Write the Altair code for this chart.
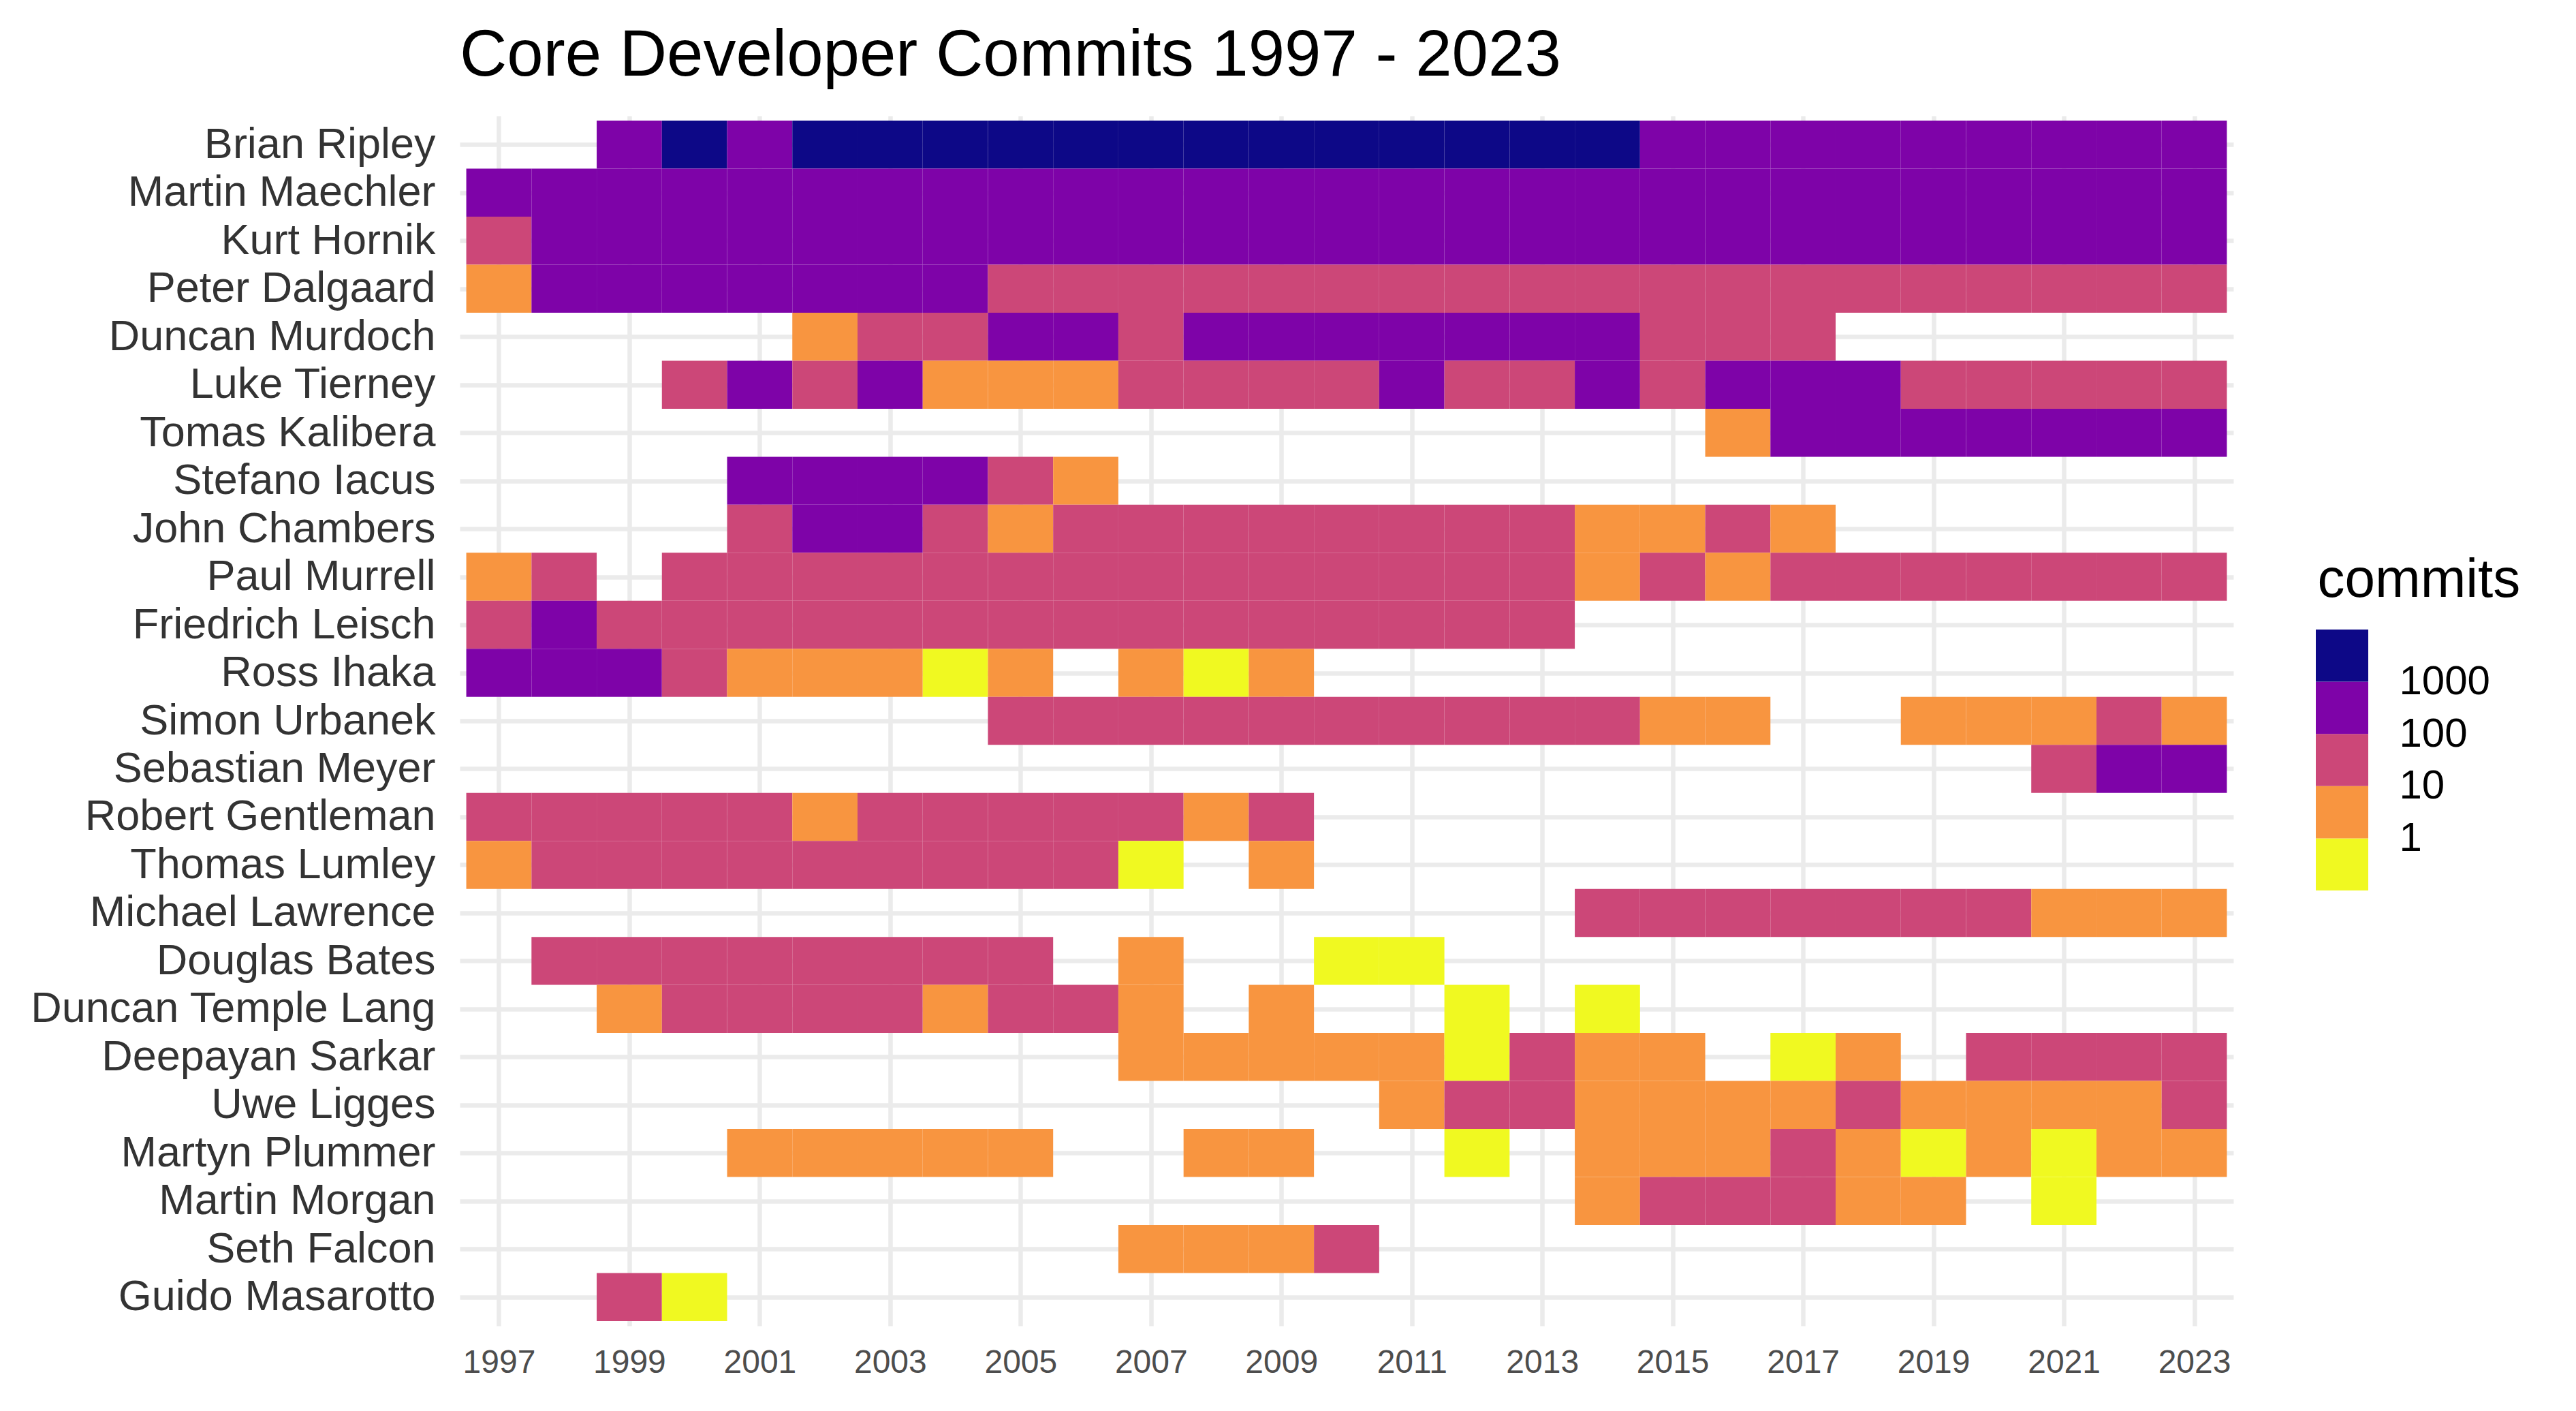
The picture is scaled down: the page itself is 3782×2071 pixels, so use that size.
import altair as alt
import pandas as pd

# ---- data ----
developers = [
    "Brian Ripley", "Martin Maechler", "Kurt Hornik", "Peter Dalgaard",
    "Duncan Murdoch", "Luke Tierney", "Tomas Kalibera", "Stefano Iacus",
    "John Chambers", "Paul Murrell", "Friedrich Leisch", "Ross Ihaka",
    "Simon Urbanek", "Sebastian Meyer", "Robert Gentleman", "Thomas Lumley",
    "Michael Lawrence", "Douglas Bates", "Duncan Temple Lang", "Deepayan Sarkar",
    "Uwe Ligges", "Martyn Plummer", "Martin Morgan", "Seth Falcon", "Guido Masarotto",
]
years = list(range(1997, 2024))

# one character per year 1997..2023:
# '.' no commits, '1' = 1 commit, '2' = 2-10, '3' = 11-100, '4' = 101-1000, '5' = >1000
activity = {
    "Brian Ripley":       "..4545555555555555444444444",
    "Martin Maechler":    "444444444444444444444444444",
    "Kurt Hornik":        "344444444444444444444444444",
    "Peter Dalgaard":     "244444443333333333333333333",
    "Duncan Murdoch":     ".....2334434444444333......",
    "Luke Tierney":       "...343422233334334344433333",
    "Tomas Kalibera":     "...................24444444",
    "Stefano Iacus":      "....444432.................",
    "John Chambers":      "....34432333333332232......",
    "Paul Murrell":       "23.333333333333332323333333",
    "Friedrich Leisch":   "34333333333333333..........",
    "Ross Ihaka":         "444322212.212..............",
    "Simon Urbanek":      "........333333333322..22232",
    "Sebastian Meyer":    "........................344",
    "Robert Gentleman":   "3333323333323..............",
    "Thomas Lumley":      "23333333331.2..............",
    "Michael Lawrence":   ".................3333333222",
    "Douglas Bates":      ".33333333.2..11............",
    "Duncan Temple Lang": "..233332332.2..1.1.........",
    "Deepayan Sarkar":    "..........222221322.12.3333",
    "Uwe Ligges":         "..............2332222322223",
    "Martyn Plummer":     "....22222..22..1.2223212122",
    "Martin Morgan":      ".................233322.1..",
    "Seth Falcon":        "..........2223.............",
    "Guido Masarotto":    "..31.......................",
}

# representative commit count for each bin code
bin_codes = ["1", "2", "3", "4", "5"]
bin_commits = {"1": 1, "2": 5, "3": 40, "4": 300, "5": 2000}
thresholds = [1.5, 10.5, 100.5, 1000.5]
palette = ["#F0F921", "#F89540", "#CC4778", "#7E03A8", "#0D0887"]
legend_labels = ["1", "10", "100", "1000"]
x_tick_years = list(range(1997, 2024, 2))

for name, s in activity.items():
    assert len(s) == len(years), (name, len(s))

rows = []
for r, dev in enumerate(developers):
    for yr, code in zip(years, activity[dev]):
        if code != ".":
            rows.append({"developer": dev, "row": r, "year": yr,
                         "commits": bin_commits[code]})
df = pd.DataFrame(rows)

legend_df = pd.DataFrame({
    "bin": list(range(len(bin_codes))),
    "commits": [bin_commits[c] for c in bin_codes],
})

FONT = "Liberation Sans"
GRID = "#EBEBEB"

color_scale = alt.Scale(type="threshold", domain=thresholds, range=palette)

names_js = "[" + ",".join("'" + d + "'" for d in developers) + "]"
labels_js = "[" + ",".join("'" + l + "'" for l in legend_labels) + "]"

heat = (
    alt.Chart(df)
    .transform_calculate(
        x0="datum.year - 0.5", x1="datum.year + 0.5",
        y0="datum.row - 0.5", y1="datum.row + 0.5",
    )
    .mark_rect()
    .encode(
        x=alt.X(
            "x0:Q",
            scale=alt.Scale(domain=[1996.4, 2023.6], nice=False, zero=False),
            axis=alt.Axis(
                values=x_tick_years, format="d", title=None, grid=True,
                gridColor=GRID, gridWidth=6.5, domain=False, ticks=False,
                labelFont=FONT, labelFontSize=48, labelColor="#4D4D4D",
                labelPadding=30, labelFlush=False, zindex=0,
            ),
        ),
        x2="x1:Q",
        y=alt.Y(
            "y0:Q",
            scale=alt.Scale(domain=[-0.6, len(developers) - 0.4], nice=False,
                            zero=False, reverse=True),
            axis=alt.Axis(
                values=list(range(len(developers))),
                labelExpr=names_js + "[datum.value]",
                title=None, grid=True,
                gridColor=GRID, gridWidth=6.5, domain=False, ticks=False,
                labelFont=FONT, labelFontSize=63, labelColor="#333333",
                labelPadding=36, labelLimit=1000, labelFlush=False, zindex=0,
            ),
        ),
        y2="y1:Q",
        color=alt.Color("commits:Q", scale=color_scale, legend=None),
    )
    .properties(
        width=2604,
        height=1776,
        title=alt.TitleParams(
            "Core Developer Commits 1997 - 2023",
            anchor="start", frame="group", font=FONT, fontSize=96,
            fontWeight="normal", color="black", baseline="bottom", offset=-57,
        ),
    )
)

legend = (
    alt.Chart(legend_df)
    .transform_calculate(b0="datum.bin", b1="datum.bin + 1")
    .mark_rect()
    .encode(
        x=alt.value(0),
        x2=alt.value(77),
        y=alt.Y(
            "b0:Q",
            scale=alt.Scale(domain=[-8.342, 14.843], nice=False, zero=False),
            axis=alt.Axis(
                orient="right", values=[1, 2, 3, 4],
                labelExpr=labels_js + "[datum.value - 1]",
                grid=False, domain=False, ticks=False,
                labelFont=FONT, labelFontSize=60, labelColor="black",
                labelPadding=45, labelFlush=False,
                title="commits", titleAngle=0, titleAlign="left",
                titleBaseline="alphabetic", titleX=-75, titleY=705,
                titleFont=FONT, titleFontSize=80, titleFontWeight="normal",
                titleColor="black",
            ),
        ),
        y2="b1:Q",
        color=alt.Color("commits:Q", scale=color_scale, legend=None),
    )
    .properties(width=77, height=1776)
)

chart = (
    alt.hconcat(heat, legend, spacing=121, bounds="flush")
    .properties(padding={"left": 35, "top": 26, "right": 5, "bottom": 5})
    .configure_view(stroke=None)
)

chart.save("out.html", embed_options={"renderer": "svg", "actions": False})
